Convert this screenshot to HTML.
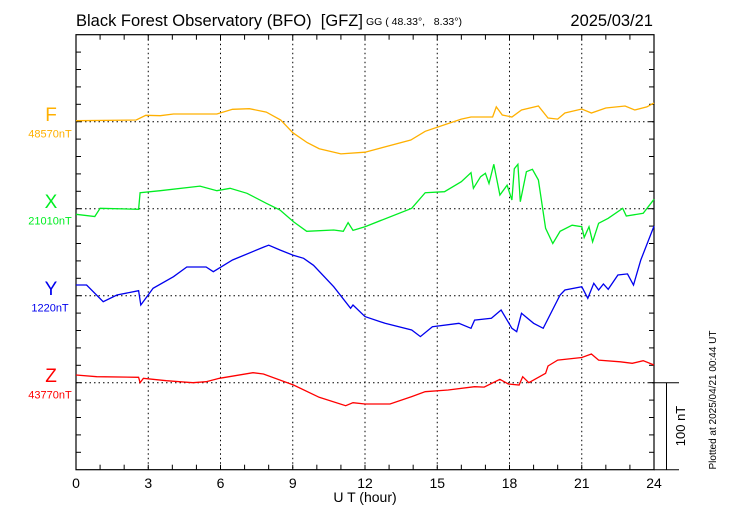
<!DOCTYPE html>
<html><head><meta charset="utf-8"><style>
body{margin:0;background:#fff}
svg{display:block;font-family:"Liberation Sans",sans-serif}
svg text{white-space:pre}
</style></head><body>
<svg id="chart" width="730" height="520" viewBox="0 0 730 520">
<text x="76" y="26" font-size="16.5" xml:space="preserve">Black Forest Observatory (BFO)  [GFZ]</text>
<text x="366" y="25" font-size="10.5" xml:space="preserve">GG ( 48.33°,   8.33°)</text>
<text x="653" y="26" font-size="16.5" text-anchor="end">2025/03/21</text>
<g id="grid"></g>
<g id="axes"></g>
<g id="series"></g>
<text x="365" y="502" font-size="14" text-anchor="middle">U T (hour)</text>
<text transform="translate(685,426) rotate(-90)" font-size="13" text-anchor="middle">100 nT</text>
<text transform="translate(716,400) rotate(-90)" font-size="10" text-anchor="middle">Plotted at 2025/04/21 00:44 UT</text>
</svg>
<script>
const xTicks=[0,3,6,9,12,15,18,21,24];
const compNames=["F","X","Y","Z"];
const compBaselines=["48570nT","21010nT","1220nT","43770nT"];
const compColors=["#ffb000","#00ee22","#0000ee","#ff0000"];
const fHours=[0,2.5,2.9,3.5,4.05,5.85,6.5,7.2,7.9,8.5,9.0,9.6,10.1,11.0,12.0,13.9,14.5,16.0,16.4,17.3,17.45,17.7,18.1,18.5,19.2,19.6,20.0,20.3,21.0,21.4,22.0,22.8,23.2,23.7,24];
const fValues=[1.1,2,7.4,6.9,8.9,8.9,14.3,15,11,2,-12.6,-24,-31,-37,-35,-21,-11,3,5.4,5.4,17,7.7,5.4,13.4,18,4.3,3,10,14.6,10,15.7,18,13.4,17,21.5];
const xHours=[0,0.78,1.0,2.6,2.66,3.5,5.15,5.85,6.4,7.1,7.9,8.47,9.03,9.58,10.7,11.1,11.3,11.5,12,13.94,14.5,15.3,16,16.4,16.5,16.8,17.0,17.15,17.35,17.6,17.9,18.1,18.2,18.35,18.45,18.7,18.95,19.2,19.5,19.8,20.1,20.6,21.0,21.1,21.3,21.45,21.7,22.1,22.7,22.85,23.55,24];
const xValues=[-6.4,-9,0.5,-0.7,18.4,20.7,26,20.7,23.4,17.7,6.2,-1.5,-15,-26,-24.5,-26,-16,-25,-20.7,0.5,18.4,19.5,31,41.4,23.4,36.8,40.7,29,51,15.7,27,10,46,51,8,42.5,45.3,33,-22.5,-40,-26,-19,-20.7,-33,-20.7,-38,-16.8,-11,0.5,-8.4,-5.3,10.8];
const yHours=[0,0.44,1.13,1.7,2.6,2.69,3.2,4.05,4.6,5.4,5.7,6.5,7.8,8.0,8.47,9.0,9.45,9.86,10.7,11.4,11.5,12,12.83,13.94,14.3,14.8,15.9,16.4,16.55,17.25,17.65,18.1,18.3,18.5,19.0,19.4,20.1,20.3,21.0,21.25,21.5,21.7,21.9,22.1,22.5,22.9,23.15,23.45,24];
const yValues=[12.3,12.3,-6.9,0.8,5.7,-10.7,8.5,21.8,33,33,27.6,41,56,58,52.5,46.7,43,35,10.3,-14.5,-10.7,-24,-31.7,-39.4,-47,-35.6,-31.7,-37.5,-28,-26,-16.4,-37.5,-41.4,-20.2,-31.7,-37.5,0.8,6.5,10.3,-3,14.3,6.5,13.4,7.4,23.8,25,12.3,41,80];
const zHours=[0,0.86,2.6,2.66,2.8,3.75,4.86,5.4,5.96,7.35,7.78,9.03,10.1,11.2,11.5,12,13.04,13.94,14.5,15.45,16.55,16.95,17.6,17.95,18.4,18.55,18.8,19.5,19.6,20.0,21.0,21.4,21.7,22.6,23.1,23.55,24];
const zValues=[8.9,6.9,6.2,0,5,2.3,0,1.1,5,11.5,10,-2.6,-16.8,-26.4,-23,-24.5,-24.5,-16,-10.3,-8.4,-4.6,-5,3.9,-1.5,-2.6,6.9,0,10.8,19.2,26,29,33,26,24,22.3,25.3,20.3];

const NS="http://www.w3.org/2000/svg";
const X0=76,X1=654,TOP=34.7,BOT=469.7,TICK=17.4,PXNT=0.87;
const baseY=[121.7,208.7,295.7,382.7];
const xs=h=>X0+(X1-X0)*h/24;
const ys=(i,v)=>baseY[i]-v*PXNT;
function mk(tag,attrs,parent){const e=document.createElementNS(NS,tag);for(const k in attrs)e.setAttribute(k,attrs[k]);parent.appendChild(e);return e;}
const grid=document.getElementById('grid'),axes=document.getElementById('axes'),ser=document.getElementById('series');
xTicks.slice(1,-1).forEach(h=>{
 const l=mk('line',{x1:xs(h),x2:xs(h),y1:TOP,y2:BOT,stroke:'#000','stroke-width':1,'stroke-dasharray':'1.5,3'},grid);
 
 
});
baseY.forEach((y,i)=>{
 const l=mk('line',{x1:X0,x2:X1,y1:y,y2:y,stroke:'#000','stroke-width':1,'stroke-dasharray':'1.5,3'},grid);
 
 
});
const fr=mk('rect',{x:X0,y:TOP,width:X1-X0,height:BOT-TOP,fill:'none',stroke:'#000','stroke-width':1.2},axes);


for(let h=1;h<24;h++){
 mk('line',{x1:xs(h),x2:xs(h),y1:BOT,y2:BOT-5,stroke:'#000'},axes);
 mk('line',{x1:xs(h),x2:xs(h),y1:TOP,y2:TOP+5,stroke:'#000'},axes);
}
for(let k=1;k<25;k++){const y=TOP+k*TICK;
 mk('line',{x1:X0,x2:X0+5,y1:y,y2:y,stroke:'#000'},axes);
 mk('line',{x1:X1,x2:X1-5,y1:y,y2:y,stroke:'#000'},axes);
}
xTicks.forEach(h=>{
 const t=mk('text',{x:xs(h),y:488,'font-size':14,'text-anchor':'middle'},axes);
 t.textContent=h;
 
 
});
mk('line',{x1:X1,x2:679,y1:baseY[3],y2:baseY[3],stroke:'#000'},axes);
mk('line',{x1:X1,x2:679,y1:BOT,y2:BOT,stroke:'#000'},axes);
const sb=mk('line',{x1:666.5,x2:666.5,y1:baseY[3],y2:BOT,stroke:'#000'},axes);


const H=[fHours,xHours,yHours,zHours],V=[fValues,xValues,yValues,zValues];
for(let i=0;i<4;i++){
 const d=H[i].map((h,j)=>(j?'L':'M')+xs(h).toFixed(1)+','+ys(i,V[i][j]).toFixed(1)).join('');
 const p=mk('path',{d:d,fill:'none',stroke:compColors[i],'stroke-width':1.3},ser);
 
 
 const t=mk('text',{x:51,y:baseY[i]-0.5,'font-size':19,'text-anchor':'middle',fill:compColors[i]},ser);
 t.textContent=compNames[i];
 
 
 const b=mk('text',{x:50,y:baseY[i]+16,'font-size':11,'text-anchor':'middle',fill:compColors[i]},ser);
 b.textContent=compBaselines[i];
 
 
}
</script>
</body></html>
